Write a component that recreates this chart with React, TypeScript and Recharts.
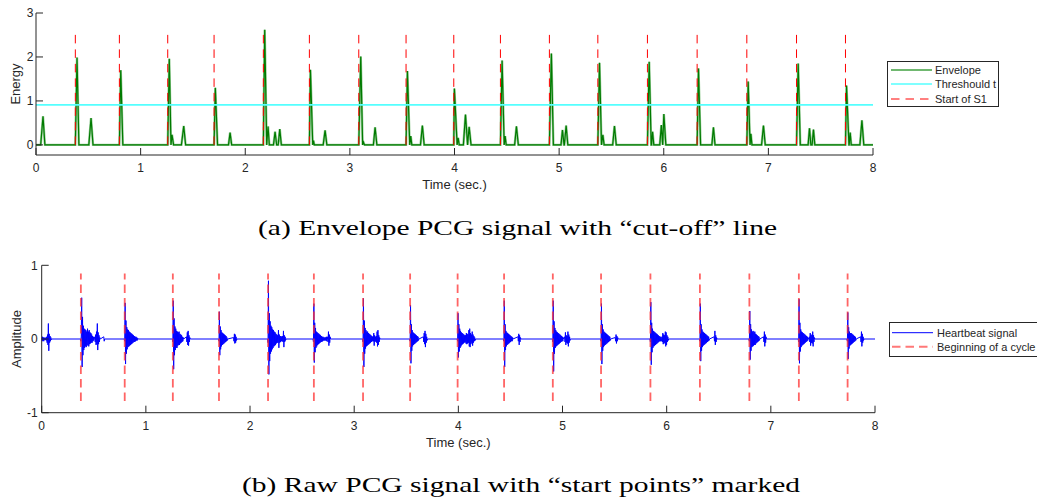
import React from 'react';
import { LineChart, Line, XAxis, YAxis, ReferenceLine, Label } from 'recharts';

// ---- axis ticks ----
const TIME_TICKS = [0, 1, 2, 3, 4, 5, 6, 7, 8];
const ENERGY_TICKS = [0, 1, 2, 3];
const AMPLITUDE_TICKS = [-1, 0, 1];

// ---- detected S1 onsets (sec.) ----
const s1Starts = [0.376, 0.797, 1.259, 1.702, 2.173, 2.613, 3.085, 3.537, 3.993, 4.439, 4.907, 5.37, 5.844, 6.319, 6.794, 7.269, 7.737];

// cut-off energy level and extent of the onset markers
const threshold = 0.91;
const s1MarkTop = 2.62;
const cycleMarkLow = -0.84;
const cycleMarkHigh = 0.89;

// ---- envelope bumps: [rise start, peak time, peak energy, fall end] ----
const envelopeBumps: [number, number, number, number][] = [
  [0.045, 0.067, 0.65, 0.085],
  [0.376, 0.392, 1.99, 0.41],
  [0.505, 0.526, 0.61, 0.545],
  [0.797, 0.81, 1.7, 0.83],
  [1.259, 1.274, 1.96, 1.29],
  [1.29, 1.3, 0.23, 1.315],
  [1.39, 1.412, 0.43, 1.43],
  [1.702, 1.714, 1.3, 1.735],
  [1.84, 1.855, 0.28, 1.87],
  [2.173, 2.186, 2.62, 2.205],
  [2.205, 2.218, 0.42, 2.23],
  [2.27, 2.285, 0.3, 2.3],
  [2.315, 2.33, 0.36, 2.345],
  [2.613, 2.623, 1.71, 2.645],
  [2.645, 2.652, 0.1, 2.66],
  [2.745, 2.763, 0.33, 2.78],
  [3.085, 3.104, 2.01, 3.122],
  [3.122, 3.13, 0.06, 3.14],
  [3.225, 3.241, 0.4, 3.258],
  [3.537, 3.55, 1.68, 3.572],
  [3.572, 3.582, 0.2, 3.592],
  [3.675, 3.693, 0.44, 3.71],
  [3.993, 3.999, 1.28, 4.025],
  [4.025, 4.035, 0.16, 4.045],
  [4.085, 4.105, 0.69, 4.125],
  [4.125, 4.14, 0.41, 4.158],
  [4.439, 4.455, 1.92, 4.475],
  [4.475, 4.484, 0.2, 4.494],
  [4.575, 4.592, 0.42, 4.61],
  [4.907, 4.926, 2.08, 4.945],
  [5.018, 5.032, 0.34, 5.047],
  [5.05, 5.067, 0.44, 5.083],
  [5.37, 5.386, 1.87, 5.405],
  [5.405, 5.418, 0.23, 5.43],
  [5.512, 5.529, 0.43, 5.546],
  [5.844, 5.861, 1.89, 5.88],
  [5.883, 5.893, 0.3, 5.905],
  [5.962, 5.977, 0.45, 5.99],
  [5.99, 6.001, 0.7, 6.02],
  [6.319, 6.332, 1.74, 6.352],
  [6.46, 6.475, 0.4, 6.49],
  [6.794, 6.807, 1.44, 6.825],
  [6.825, 6.833, 0.25, 6.843],
  [6.935, 6.953, 0.44, 6.97],
  [7.269, 7.285, 1.85, 7.305],
  [7.38, 7.393, 0.38, 7.406],
  [7.418, 7.431, 0.35, 7.444],
  [7.737, 7.747, 1.35, 7.77],
  [7.772, 7.782, 0.28, 7.792],
  [7.875, 7.894, 0.56, 7.912],
];

// ---- raw PCG bursts: [first sample time, samples at RAW_DT spacing] ----
const RAW_DT = 0.004;
const rawBursts: [number, number[]][] = [
  [0.0, [0.02, -0.03, 0.03, -0.02, 0.02, -0.03, 0.02, -0.01, 0.01, -0.01, 0.02, -0.02, 0.03, -0.05, 0.06, -0.08, 0.21, -0.16, 0.07, -0.05, 0.04, -0.03, 0.02, -0.01, 0]],
  [0.372, [0, -0.03, 0.04, 0.56, -0.38, 0.3, -0.22, 0.18, -0.15, 0.14, -0.12, 0.13, -0.1, 0.12, -0.11, 0.1, -0.09, 0.14, -0.08, 0.1, -0.1, 0.12, -0.07, 0.09, -0.06, 0.08, -0.05, 0.06, -0.05, 0.04, -0.03, 0.03, -0.02, 0]],
  [0.51, [0.03, -0.04, 0.06, -0.08, 0.1, -0.07, 0.21, -0.15, 0.09, -0.07, 0.05, -0.04, 0.02, 0]],
  [0.596, [0.03, -0.03, 0]],
  [0.793, [0, -0.03, 0.49, -0.34, 0.25, -0.2, 0.16, -0.14, 0.13, -0.11, 0.12, -0.1, 0.1, -0.09, 0.09, -0.08, 0.08, -0.07, 0.07, -0.06, 0.06, -0.05, 0.05, -0.04, 0.04, -0.04, 0.03, -0.03, 0.03, -0.02, 0.02, -0.02, 0.01, 0]],
  [1.255, [0, -0.04, 0.52, -0.41, 0.28, -0.22, 0.17, -0.15, 0.14, -0.12, 0.11, -0.12, 0.1, -0.09, 0.09, -0.08, 0.1, -0.08, 0.07, -0.06, 0.06, -0.05, 0.05, -0.04, 0.03, -0.03, 0.02, 0]],
  [1.39, [0.03, -0.04, 0.09, -0.08, 0.11, -0.09, 0.05, -0.04, 0.02, 0]],
  [1.698, [0, -0.03, 0.37, -0.22, 0.17, -0.14, 0.12, -0.1, 0.09, -0.08, 0.08, -0.07, 0.07, -0.06, 0.06, -0.05, 0.05, -0.04, 0.04, -0.03, 0.02, -0.02, 0]],
  [1.842, [0.02, -0.03, 0.07, -0.06, 0.06, -0.05, 0.03, -0.02, 0]],
  [2.169, [0, -0.05, 0.79, -0.48, 0.35, -0.3, 0.24, -0.2, 0.18, -0.17, 0.16, -0.14, 0.13, -0.12, 0.12, -0.1, 0.1, -0.09, 0.09, -0.08, 0.07, -0.06, 0.06, -0.05, 0.05, -0.05, 0.12, -0.12, 0.06, -0.05, 0.04, -0.04, 0.04, -0.03, 0.03, -0.03, 0.04, -0.04, 0.11, -0.11, 0.05, -0.04, 0.03, -0.02, 0]],
  [2.605, [0, -0.04, 0.48, -0.32, 0.22, -0.18, 0.15, -0.12, 0.1, -0.1, 0.09, -0.08, 0.08, -0.07, 0.07, -0.06, 0.06, -0.05, 0.05, -0.04, 0.04, -0.04, 0.03, -0.03, 0.03, -0.02, 0.02, -0.02, 0.02, -0.02, 0.02, -0.02, 0.03, -0.03, 0.02, 0]],
  [2.745, [0.03, -0.04, 0.1, -0.09, 0.06, -0.05, 0.03, 0]],
  [3.081, [0, -0.04, 0.55, -0.38, 0.25, -0.2, 0.15, -0.13, 0.12, -0.1, 0.1, -0.09, 0.1, -0.08, 0.08, -0.07, 0.07, -0.06, 0.06, -0.05, 0.05, -0.04, 0.04, -0.03, 0.03, -0.03, 0.02, 0]],
  [3.18, [0.03, -0.03, 0.08, -0.09, 0.05, -0.04, 0.03, -0.03, 0.04, -0.05, 0.1, -0.1, 0.12, -0.08, 0.05, -0.04, 0.02, 0]],
  [3.533, [0, -0.03, 0.46, -0.33, 0.2, -0.16, 0.12, -0.1, 0.09, -0.08, 0.08, -0.07, 0.07, -0.06, 0.06, -0.05, 0.05, -0.04, 0.04, -0.03, 0.03, -0.02, 0]],
  [3.664, [0.03, -0.04, 0.08, -0.07, 0.11, -0.11, 0.07, -0.05, 0.03, -0.02, 0]],
  [3.989, [0, -0.03, 0.35, -0.25, 0.2, -0.17, 0.14, -0.12, 0.11, -0.1, 0.09, -0.08, 0.08, -0.07, 0.07, -0.06, 0.06, -0.05, 0.05, -0.04, 0.05, -0.06, 0.08, -0.07, 0.07, -0.06, 0.06, -0.05, 0.12, -0.1, 0.14, -0.11, 0.08, -0.07, 0.06, -0.05, 0.1, -0.09, 0.06, -0.05, 0.04, -0.03, 0.02, -0.02, 0]],
  [4.433, [0, -0.03, 0.52, -0.38, 0.2, -0.15, 0.11, -0.1, 0.09, -0.08, 0.08, -0.07, 0.07, -0.06, 0.06, -0.05, 0.05, -0.04, 0.04, -0.03, 0.03, -0.03, 0.02, 0]],
  [4.572, [0.03, -0.03, 0.07, -0.08, 0.05, -0.04, 0.02, 0]],
  [4.903, [0, -0.04, 0.52, -0.44, 0.24, -0.2, 0.15, -0.12, 0.12, -0.1, 0.1, -0.09, 0.09, -0.08, 0.08, -0.07, 0.07, -0.06, 0.06, -0.05, 0.05, -0.04, 0.04, -0.03, 0.03, -0.03, 0.02, 0]],
  [5.02, [0.03, -0.04, 0.09, -0.08, 0.05, -0.05, 0.04, -0.06, 0.1, -0.1, 0.06, -0.05, 0.03, -0.02, 0]],
  [5.366, [0, -0.03, 0.48, -0.34, 0.2, -0.16, 0.13, -0.11, 0.1, -0.09, 0.09, -0.08, 0.08, -0.07, 0.07, -0.06, 0.06, -0.05, 0.05, -0.04, 0.04, -0.03, 0.03, -0.02, 0]],
  [5.506, [0.02, -0.03, 0.06, -0.06, 0.04, -0.03, 0.02, 0]],
  [5.84, [0, -0.04, 0.5, -0.35, 0.22, -0.18, 0.14, -0.12, 0.11, -0.1, 0.1, -0.09, 0.09, -0.08, 0.08, -0.07, 0.07, -0.06, 0.06, -0.05, 0.05, -0.04, 0.04, -0.03, 0.03, -0.03, 0.03, -0.03, 0]],
  [5.955, [0.03, -0.04, 0.08, -0.07, 0.06, -0.05, 0.05, -0.06, 0.1, -0.1, 0.09, -0.08, 0.05, -0.04, 0.03, -0.02, 0]],
  [6.315, [0, -0.03, 0.48, -0.3, 0.2, -0.16, 0.13, -0.11, 0.1, -0.09, 0.09, -0.08, 0.08, -0.07, 0.07, -0.06, 0.06, -0.05, 0.05, -0.04, 0.04, -0.03, 0.03, -0.02, 0]],
  [6.455, [0.03, -0.03, 0.11, -0.08, 0.05, -0.04, 0.02, 0]],
  [6.79, [0, -0.03, 0.38, -0.28, 0.2, -0.16, 0.13, -0.11, 0.1, -0.1, 0.11, -0.09, 0.09, -0.08, 0.1, -0.08, 0.07, -0.06, 0.06, -0.05, 0.05, -0.04, 0.04, -0.03, 0.03, -0.02, 0]],
  [6.93, [0.03, -0.04, 0.1, -0.1, 0.06, -0.05, 0.03, 0]],
  [7.263, [0, -0.04, 0.54, -0.33, 0.22, -0.17, 0.13, -0.11, 0.1, -0.09, 0.09, -0.08, 0.08, -0.07, 0.07, -0.06, 0.06, -0.05, 0.05, -0.04, 0.04, -0.03, 0.03, -0.02, 0]],
  [7.37, [0.03, -0.04, 0.08, -0.09, 0.06, -0.05, 0.05, -0.06, 0.1, -0.1, 0.05, -0.04, 0.02, 0]],
  [7.731, [0, -0.03, 0.36, -0.27, 0.16, -0.13, 0.1, -0.09, 0.08, -0.08, 0.08, -0.07, 0.07, -0.06, 0.06, -0.05, 0.05, -0.04, 0.04, -0.03, 0.03, -0.02, 0]],
  [7.862, [0.03, -0.04, 0.1, -0.1, 0.07, -0.05, 0.03, -0.02, 0]],
];

// ---- series tables ----
const envelopeData = [
  { t: 0, v: 0 },
  ...envelopeBumps.flatMap(([a, p, h, b]) => [
    { t: a, v: 0 },
    { t: p, v: h },
    { t: b, v: 0 },
  ]),
  { t: 8, v: 0 },
];

const rawData = [
  ...rawBursts.flatMap(([t0, samples]) =>
    samples.map((v, i) => ({ t: Math.round((t0 + i * RAW_DT) * 10000) / 10000, v }))
  ),
  { t: 8, v: 0 },
];

// ---- styling ----
const AXIS_COLOR = '#262626';
const SANS = '"Liberation Sans", Arial, Helvetica, sans-serif';
const SERIF = '"Liberation Serif", "Times New Roman", serif';
const tickStyle = { fill: AXIS_COLOR, fontSize: 12, fontFamily: SANS };
const titleStyle = { fill: AXIS_COLOR, fontSize: 13, fontFamily: SANS };

const W = 1037;
const H = 502;

function verticalTitle(text: string, baselineX: number) {
  return (props: any) => {
    const vb = props.viewBox || {};
    const cy = vb.y + vb.height / 2;
    return (
      <text
        x={baselineX}
        y={cy}
        transform={`rotate(-90 ${baselineX} ${cy})`}
        textAnchor="middle"
        style={titleStyle}
      >
        {text}
      </text>
    );
  };
}

function EnvelopePanel() {
  return (
    <LineChart
      width={W}
      height={200}
      data={envelopeData}
      margin={{ top: 13, right: 164, bottom: 0, left: 0 }}
    >
      <XAxis
        dataKey="t"
        type="number"
        domain={[0, 8]}
        ticks={TIME_TICKS}
        interval={0}
        allowDataOverflow
        height={45}
        tickSize={-7}
        tickMargin={15.3}
        stroke={AXIS_COLOR}
        tick={tickStyle}
      >
        <Label value="Time (sec.)" position="insideTop" offset={25} style={titleStyle} />
      </XAxis>
      <XAxis
        xAxisId="top"
        orientation="top"
        type="number"
        domain={[0, 8]}
        ticks={TIME_TICKS}
        interval={0}
        allowDataOverflow
        height={0}
        tickSize={-7}
        stroke={AXIS_COLOR}
        tickFormatter={() => ''}
      />
      <YAxis
        type="number"
        domain={[-0.23, 3]}
        ticks={ENERGY_TICKS}
        interval={0}
        allowDataOverflow
        width={36}
        tickSize={-7}
        tickMargin={9.5}
        stroke={AXIS_COLOR}
        tick={tickStyle}
      >
        <Label content={verticalTitle('Energy', 20.3)} />
      </YAxis>
      <YAxis
        yAxisId="right"
        orientation="right"
        type="number"
        domain={[-0.23, 3]}
        ticks={ENERGY_TICKS}
        interval={0}
        allowDataOverflow
        width={0}
        tickSize={-7}
        stroke={AXIS_COLOR}
        tickFormatter={() => ''}
      />
      <Line
        type="linear"
        dataKey="v"
        stroke="#7cc07c"
        strokeWidth={2.4}
        strokeOpacity={0.8}
        dot={false}
        activeDot={false}
        isAnimationActive={false}
      />
      <Line
        type="linear"
        dataKey="v"
        stroke="#007a00"
        strokeWidth={1.2}
        dot={false}
        activeDot={false}
        isAnimationActive={false}
      />
      <ReferenceLine y={threshold} stroke="#55ffff" strokeWidth={1.6} />
      {s1Starts.map((s) => (
        <ReferenceLine
          key={`s1-${s}`}
          segment={[
            { x: s, y: 0 },
            { x: s, y: s1MarkTop },
          ]}
          stroke="#ff0000"
          strokeWidth={1}
          strokeDasharray="8.5 6"
        />
      ))}
    </LineChart>
  );
}

function RawPanel() {
  return (
    <LineChart
      width={W}
      height={200}
      data={rawData}
      margin={{ top: 15.3, right: 162, bottom: 0, left: 0 }}
    >
      <XAxis
        dataKey="t"
        type="number"
        domain={[0, 8]}
        ticks={TIME_TICKS}
        interval={0}
        allowDataOverflow
        height={37.3}
        tickSize={-7}
        tickMargin={16}
        stroke={AXIS_COLOR}
        tick={tickStyle}
      >
        <Label value="Time (sec.)" position="insideTop" offset={25} style={titleStyle} />
      </XAxis>
      <XAxis
        xAxisId="top"
        orientation="top"
        type="number"
        domain={[0, 8]}
        ticks={TIME_TICKS}
        interval={0}
        allowDataOverflow
        height={0}
        tickSize={-7}
        stroke={AXIS_COLOR}
        tickFormatter={() => ''}
      />
      <YAxis
        type="number"
        domain={[-1, 1]}
        ticks={AMPLITUDE_TICKS}
        interval={0}
        allowDataOverflow
        width={41.7}
        tickSize={-7}
        tickMargin={11}
        stroke={AXIS_COLOR}
        tick={tickStyle}
      >
        <Label content={verticalTitle('Amplitude', 21)} />
      </YAxis>
      <YAxis
        yAxisId="right"
        orientation="right"
        type="number"
        domain={[-1, 1]}
        ticks={AMPLITUDE_TICKS}
        interval={0}
        allowDataOverflow
        width={0}
        tickSize={-7}
        stroke={AXIS_COLOR}
        tickFormatter={() => ''}
      />
      <Line
        type="linear"
        dataKey="v"
        stroke="#0000ff"
        strokeWidth={1}
        dot={false}
        activeDot={false}
        isAnimationActive={false}
      />
      {s1Starts.map((s) => (
        <ReferenceLine
          key={`cyc-${s}`}
          segment={[
            { x: s, y: cycleMarkLow },
            { x: s, y: cycleMarkHigh },
          ]}
          stroke="#ff3030"
          strokeOpacity={0.75}
          strokeWidth={1.8}
          strokeDasharray="8.5 5"
        />
      ))}
    </LineChart>
  );
}

function Overlay() {
  return (
    <svg
      width={W}
      height={H}
      style={{ position: 'absolute', left: 0, top: 0, pointerEvents: 'none' }}
    >
      {/* legend of the envelope panel */}
      <rect x={887.5} y={61.5} width={111} height={45} fill="#fff" stroke={AXIS_COLOR} strokeWidth={1} />
      <line x1={891} y1={70} x2={932} y2={70} stroke="#70b870" strokeWidth={2} />
      <line x1={891} y1={84} x2={932} y2={84} stroke="#55ffff" strokeWidth={1.6} />
      <line x1={891} y1={99} x2={932} y2={99} stroke="#ff0000" strokeWidth={1} strokeDasharray="8.5 6" />
      <text x={935} y={74} fontSize={11} fontFamily={SANS} fill={AXIS_COLOR}>Envelope</text>
      <text x={935} y={88.3} fontSize={11} fontFamily={SANS} fill={AXIS_COLOR}>Threshould t</text>
      <text x={935} y={102.7} fontSize={11} fontFamily={SANS} fill={AXIS_COLOR}>Start of S1</text>

      {/* legend of the raw-signal panel */}
      <rect x={889.5} y={322.5} width={154} height={34} fill="#fff" stroke={AXIS_COLOR} strokeWidth={1} />
      <line x1={892} y1={332.7} x2={933} y2={332.7} stroke="#0000ff" strokeWidth={1} />
      <line x1={892} y1={346.7} x2={933} y2={346.7} stroke="#ff3030" strokeOpacity={0.65} strokeWidth={2} strokeDasharray="8.5 5" />
      <text x={937} y={336.7} fontSize={11} fontFamily={SANS} fill={AXIS_COLOR}>Heartbeat signal</text>
      <text x={937} y={350.7} fontSize={11} fontFamily={SANS} fill={AXIS_COLOR}>Beginning of a cycle</text>

      {/* sub-figure captions */}
      <text
        x={517.5}
        y={235}
        textAnchor="middle"
        fontSize={22}
        fontFamily={SERIF}
        fill="#000"
        textLength={519}
        lengthAdjust="spacingAndGlyphs"
      >
        (a) Envelope PCG signal with “cut-off” line
      </text>
      <text
        x={521}
        y={492}
        textAnchor="middle"
        fontSize={22}
        fontFamily={SERIF}
        fill="#000"
        textLength={558}
        lengthAdjust="spacingAndGlyphs"
      >
        (b) Raw PCG signal with “start points” marked
      </text>
    </svg>
  );
}

export default function App() {
  return (
    <div
      style={{
        position: 'absolute',
        left: 0,
        top: 0,
        width: W,
        height: H,
        overflow: 'hidden',
        background: '#fff',
        fontFamily: SANS,
      }}
    >
      <div style={{ position: 'absolute', left: 0, top: 0 }}>
        <EnvelopePanel />
      </div>
      <div style={{ position: 'absolute', left: 0, top: 250 }}>
        <RawPanel />
      </div>
      <Overlay />
    </div>
  );
}
